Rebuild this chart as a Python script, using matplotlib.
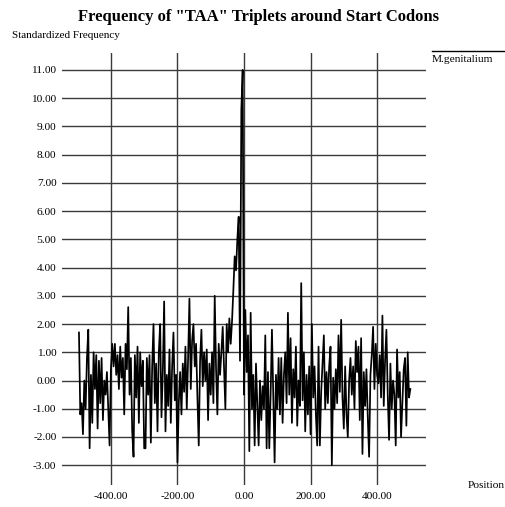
import numpy as np
import matplotlib
matplotlib.use("Agg")
import matplotlib.pyplot as plt
from matplotlib.lines import Line2D

plt.rcParams['font.family'] = ['Liberation Serif', 'DejaVu Serif']

title = 'Frequency of "TAA" Triplets around Start Codons'
y_label = "Standardized Frequency"
x_label = "Position"
series_name = "M.genitalium"

pos_start, pos_step = -496, 4

seg_a = [1.7, -1.2, -0.8, -1.9, 0.0, -1.0, 0.8, 1.8, -2.4, 0.2, -1.5, 1.0, -0.3,
         0.9, -1.7, 0.7, -0.8, 0.8, -1.4, 0.0, -0.5, 0.3, -1.0, -2.3, 0.4]
seg_b = [1.3, 0.5, 1.3, 0.2, 0.9, -0.3, 1.2, 0.1, 0.8, -1.2, 1.3, 0.4, 2.6,
         -0.5, 0.8, -1.8, -2.7, 0.9, -0.6, 1.2, -1.5, 1.0, -0.2, 0.7, -2.4]
seg_c = [-2.4, 0.8, -0.5, 0.9, -2.2, 0.5, 2.0, -0.8, 0.6, -1.8, 1.0, 2.0, -1.3,
         0.3, 2.8, -1.8, 0.2, -0.9, 1.1, -1.5, 0.5, 1.7, -0.7, 0.2, -2.9]
seg_d = [-0.8, 0.3, -1.2, 0.6, -0.4, 1.2, -1.0, 0.8, 2.9, -0.3, 1.4, 2.0, 0.5,
         1.3, -0.6, -2.3, 0.7, 1.8, -0.2, 1.0, 0.0, 1.1, -1.4, 0.6, -0.5]
seg_e = [1.0, -0.8, 3.0, 0.4, -1.2, 1.3, 0.2, 1.0, 1.9, 0.5, -1.0, 2.0, 1.0,
         2.2, 1.3, 2.1, 3.2, 4.4, 3.9, 5.0, 5.8, 0.7, 9.6, 11.0, -0.5]
seg_f = [2.5, 0.3, 1.6, -2.5, 2.4, -1.0, 0.2, -2.3, 0.6, -0.8, -2.3, 0.0, -1.4,
         -0.2, -1.0, 1.6, -2.4, 0.3, -2.4, -0.5, 1.8, -0.6, -2.9, 0.2, -1.0]
seg_g = [0.8, -1.2, 0.8, -1.5, 0.2, 1.0, -0.8, 2.4, -0.5, 1.5, -1.5, 0.4, -0.6,
         1.2, -1.6, 0.0, -0.9, 3.45, -0.7, 1.0, -1.8, 0.2, -1.2, 0.5, -1.9]
seg_h = [2.0, -0.6, 0.5, -1.2, -2.3, 1.2, -2.3, -0.4, 0.6, 1.6, -1.0, 0.3, -0.8,
         0.5, 1.2, -3.0, 0.1, -1.0, 0.4, -0.8, 1.6, -0.4, 2.15, -0.6, -1.7]
seg_i = [0.5, -1.2, -2.0, 0.0, 0.8, -0.5, 0.5, -1.0, 1.4, 0.3, 1.2, -1.4, 1.5,
         -2.6, 0.3, -0.9, 0.4, -1.3, -2.7, 0.2, 0.9, 1.9, -0.3, 1.3, 0.2]
seg_j = [-0.1, 0.9, -0.6, 2.3, -0.9, 0.7, 1.8, -0.5, -2.1, 0.6, -1.0, 0.0, -0.5,
         -2.3, 1.1, -0.6, 0.3, -2.0, -0.8, 0.4, 0.8, -1.6, 1.0, -0.6, -0.3]

values = np.array(seg_a + seg_b + seg_c + seg_d + seg_e + seg_f + seg_g + seg_h + seg_i + seg_j)
positions = pos_start + pos_step * np.arange(len(values))

y_ticks = list(range(-3, 12))
x_ticks = [-400, -200, 0, 200, 400]

W, H = 506, 507
fig = plt.figure(figsize=(W / 100, H / 100), dpi=100)
ax = fig.add_axes([62 / W, (H - 485) / H, 364 / W, 432 / H])
ax.set_xlim(-547, 547)
ax.set_ylim(-3.7, 11.6)
for s in ax.spines.values():
    s.set_visible(False)

for yv in y_ticks:
    ax.axhline(yv, color='#3a3a3a', lw=1.0, zorder=1)
for xv in x_ticks:
    ax.axvline(xv, color='#3a3a3a', lw=1.0, zorder=1)

ax.plot(positions, values, color='black', lw=1.25, zorder=3)

ax.set_yticks(y_ticks)
ax.set_yticklabels([f"{v:.2f}" for v in y_ticks], fontsize=8.2)
ax.set_xticks(x_ticks)
ax.set_xticklabels([f"{v:.2f}" for v in x_ticks], fontsize=8.2)
ax.tick_params(axis='both', length=0)
ax.tick_params(axis='y', pad=4)
ax.tick_params(axis='x', pad=5)

fig.text(259 / W, 1 - 17 / H, title, ha='center', va='center', fontsize=12, fontweight='bold')
fig.text(12 / W, 1 - 36 / H, y_label, ha='left', va='center', fontsize=8)
fig.text(505 / W, 1 - 485 / H, x_label, ha='right', va='center', fontsize=8.2)
fig.add_artist(Line2D([432 / W, 505 / W], [1 - 51 / H, 1 - 51 / H], color='black', lw=1.0))
fig.text(432 / W, 1 - 60 / H, series_name, ha='left', va='center', fontsize=8.2)

fig.savefig("out.png", dpi=100)
